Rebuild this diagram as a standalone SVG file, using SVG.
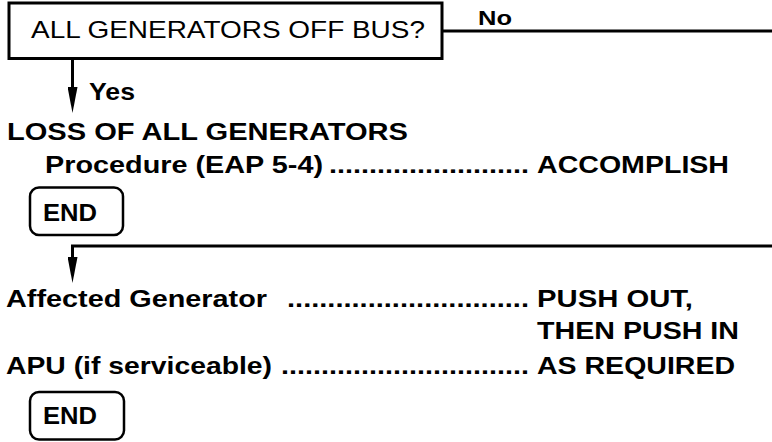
<svg xmlns="http://www.w3.org/2000/svg" width="772" height="442" viewBox="0 0 772 442">
<style>
text{font-family:"Liberation Sans",Arial,sans-serif;font-size:24px;fill:#000;}
.b{font-weight:bold;}
.n{font-weight:normal;}
.box{fill:#fff;stroke:#000;stroke-width:3;}
.end{fill:#fff;stroke:#000;stroke-width:2.5;}
.con{fill:none;stroke:#000;stroke-width:3;}
</style>
<defs>
<marker id="arr" markerUnits="userSpaceOnUse" markerWidth="26" markerHeight="10" viewBox="0 0 26 10" refX="0" refY="5" orient="auto">
<path d="M0,0 L26,5 L0,10 z" fill="#000"/>
</marker>
</defs>
<g id="connectors">
<path class="con" d="M442,31 H772"/>
<path class="con" d="M72.5,58.5 V87" marker-end="url(#arr)"/>
<path class="con" d="M772,246 H72.5 V257" marker-end="url(#arr)"/>
</g>
<g id="question">
<rect class="box" x="9" y="3" width="433" height="55.5"/>
<text class="n" x="31" y="38" textLength="394" lengthAdjust="spacingAndGlyphs">ALL GENERATORS OFF BUS?</text>
</g>
<g id="label-no">
<text class="b" x="478" y="25" font-size="21" textLength="34" lengthAdjust="spacingAndGlyphs" style="font-size:21px">No</text>
</g>
<g id="label-yes">
<text class="b" x="89" y="100" textLength="46" lengthAdjust="spacingAndGlyphs">Yes</text>
</g>
<g id="loss-procedure">
<text class="b" x="7" y="140" textLength="401" lengthAdjust="spacingAndGlyphs">LOSS OF ALL GENERATORS</text>
<text class="b" x="45" y="173" textLength="278" lengthAdjust="spacingAndGlyphs">Procedure (EAP 5-4)</text>
<text class="b" x="329" y="173" textLength="200" lengthAdjust="spacingAndGlyphs">.........................</text>
<text class="b" x="537" y="173" textLength="192" lengthAdjust="spacingAndGlyphs">ACCOMPLISH</text>
</g>
<g id="end1">
<rect class="end" x="30" y="187.5" width="93" height="47.5" rx="9"/>
<text class="b" x="43" y="220.5" textLength="54" lengthAdjust="spacingAndGlyphs">END</text>
</g>
<g id="generator-steps">
<text class="b" x="6" y="307" textLength="261" lengthAdjust="spacingAndGlyphs">Affected Generator</text>
<text class="b" x="287" y="307" textLength="242" lengthAdjust="spacingAndGlyphs">..............................</text>
<text class="b" x="537" y="307" textLength="156" lengthAdjust="spacingAndGlyphs">PUSH OUT,</text>
<text class="b" x="537" y="339" textLength="202" lengthAdjust="spacingAndGlyphs">THEN PUSH IN</text>
<text class="b" x="6" y="374" textLength="266" lengthAdjust="spacingAndGlyphs">APU (if serviceable)</text>
<text class="b" x="281" y="374" textLength="248" lengthAdjust="spacingAndGlyphs">...............................</text>
<text class="b" x="537" y="374" textLength="198" lengthAdjust="spacingAndGlyphs">AS REQUIRED</text>
</g>
<g id="end2">
<rect class="end" x="30" y="392" width="94" height="47.5" rx="9"/>
<text class="b" x="43" y="424" textLength="54" lengthAdjust="spacingAndGlyphs">END</text>
</g>
</svg>
